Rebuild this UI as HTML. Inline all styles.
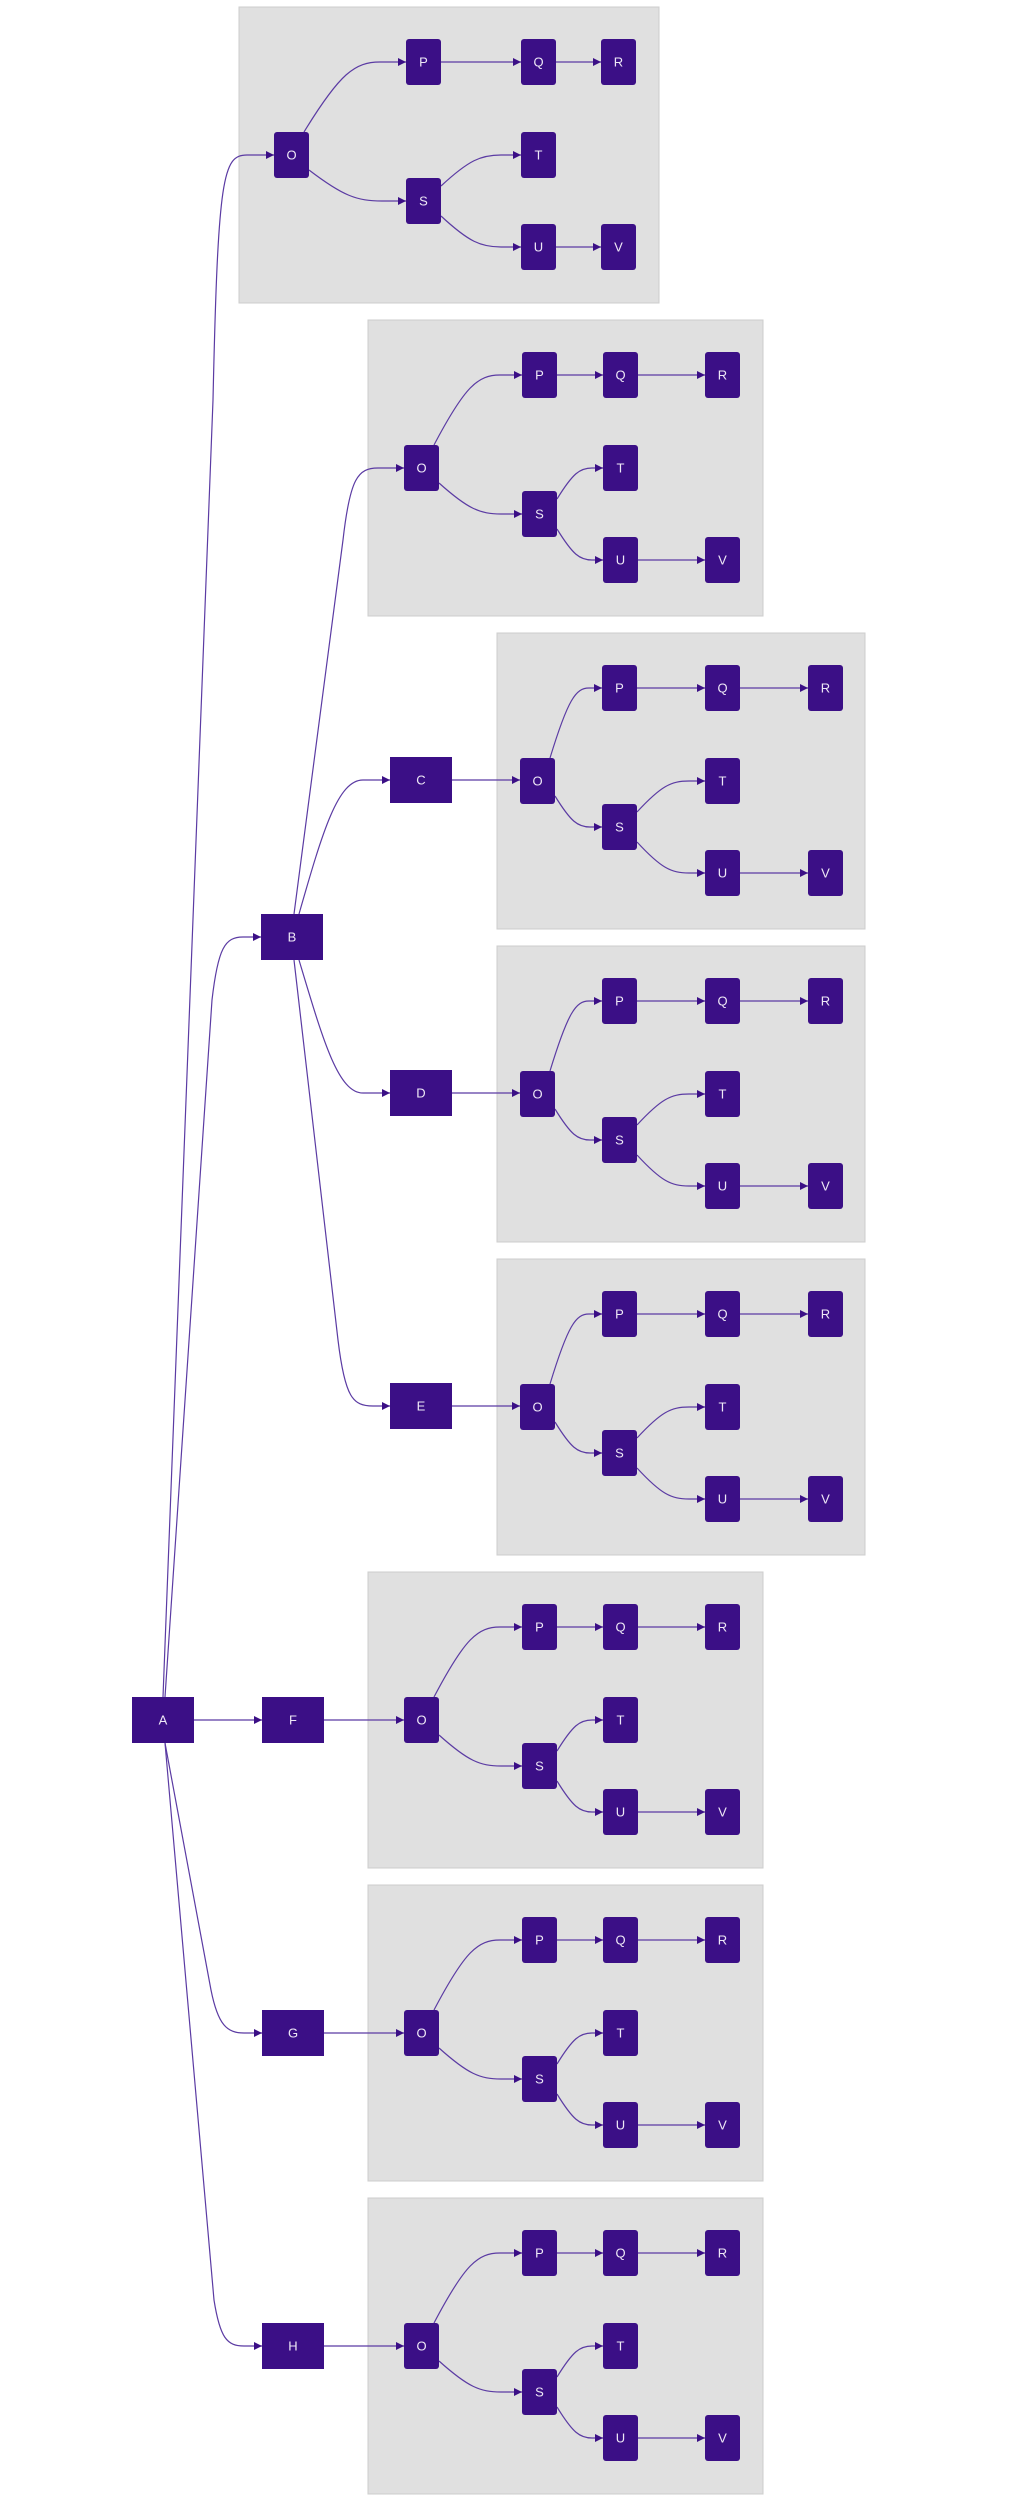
<!DOCTYPE html>
<html><head><meta charset="utf-8"><style>
html,body{margin:0;padding:0;background:#fff;}
svg{display:block;}
.g{fill:#e0e0e0;stroke:#cdcdcd;stroke-width:1;}
.n{fill:#3b0f86;}
.e{fill:none;stroke:#5b3ba3;stroke-width:1.2;marker-end:url(#ar);}
text{font-family:"Liberation Sans",sans-serif;font-size:13px;fill:#eee8f6;text-anchor:middle;dominant-baseline:central;}
</style></head><body>
<svg width="1010" height="2500" viewBox="0 0 1010 2500" xmlns="http://www.w3.org/2000/svg">
<defs>
<marker id="ar" markerUnits="userSpaceOnUse" markerWidth="8" markerHeight="8" refX="8" refY="4" orient="auto"><path d="M0,0 L8,4 L0,8 z" fill="#3b0f86"/></marker>
<g id="t1">
<rect class="g" x="0" y="0" width="420" height="296"/>
<path class="e" d="M65,125 C101,66 116,55 141,55 L167,55"/>
<path class="e" d="M70,163 C104,189 118,194 143,194 L167,194"/>
<path class="e" d="M202,55 L282,55"/>
<path class="e" d="M317,55 L362,55"/>
<path class="e" d="M202,179 C230,153 242,148 262,148 L282,148"/>
<path class="e" d="M202,209 C230,235 242,240 262,240 L282,240"/>
<path class="e" d="M317,240 L362,240"/>
<rect class="n" x="35" y="125" width="35" height="46" rx="3"/><text x="52.5" y="148">O</text>
<rect class="n" x="167" y="32" width="35" height="46" rx="3"/><text x="184.5" y="55">P</text>
<rect class="n" x="282" y="32" width="35" height="46" rx="3"/><text x="299.5" y="55">Q</text>
<rect class="n" x="362" y="32" width="35" height="46" rx="3"/><text x="379.5" y="55">R</text>
<rect class="n" x="282" y="125" width="35" height="46" rx="3"/><text x="299.5" y="148">T</text>
<rect class="n" x="167" y="171" width="35" height="46" rx="3"/><text x="184.5" y="194">S</text>
<rect class="n" x="282" y="217" width="35" height="46" rx="3"/><text x="299.5" y="240">U</text>
<rect class="n" x="362" y="217" width="35" height="46" rx="3"/><text x="379.5" y="240">V</text>
</g>
<g id="t2">
<rect class="g" x="0" y="0" width="395" height="296"/>
<path class="e" d="M66,125 C97,66 110,55 132,55 L154,55"/>
<path class="e" d="M71,163 C100,189 112,194 133,194 L154,194"/>
<path class="e" d="M189,55 L235,55"/>
<path class="e" d="M270,55 L337,55"/>
<path class="e" d="M189,179 C205,153 212,148 224,148 L235,148"/>
<path class="e" d="M189,209 C205,235 212,240 224,240 L235,240"/>
<path class="e" d="M270,240 L337,240"/>
<rect class="n" x="36" y="125" width="35" height="46" rx="3"/><text x="53.5" y="148">O</text>
<rect class="n" x="154" y="32" width="35" height="46" rx="3"/><text x="171.5" y="55">P</text>
<rect class="n" x="235" y="32" width="35" height="46" rx="3"/><text x="252.5" y="55">Q</text>
<rect class="n" x="337" y="32" width="35" height="46" rx="3"/><text x="354.5" y="55">R</text>
<rect class="n" x="235" y="125" width="35" height="46" rx="3"/><text x="252.5" y="148">T</text>
<rect class="n" x="154" y="171" width="35" height="46" rx="3"/><text x="171.5" y="194">S</text>
<rect class="n" x="235" y="217" width="35" height="46" rx="3"/><text x="252.5" y="240">U</text>
<rect class="n" x="337" y="217" width="35" height="46" rx="3"/><text x="354.5" y="240">V</text>
</g>
<g id="t3">
<rect class="g" x="0" y="0" width="368" height="296"/>
<path class="e" d="M53,125 C71,66 79,55 92,55 L105,55"/>
<path class="e" d="M58,163 C74,189 81,194 93,194 L105,194"/>
<path class="e" d="M140,55 L208,55"/>
<path class="e" d="M243,55 L311,55"/>
<path class="e" d="M140,179 C164,153 174,148 192,148 L208,148"/>
<path class="e" d="M140,209 C164,235 174,240 192,240 L208,240"/>
<path class="e" d="M243,240 L311,240"/>
<rect class="n" x="23" y="125" width="35" height="46" rx="3"/><text x="40.5" y="148">O</text>
<rect class="n" x="105" y="32" width="35" height="46" rx="3"/><text x="122.5" y="55">P</text>
<rect class="n" x="208" y="32" width="35" height="46" rx="3"/><text x="225.5" y="55">Q</text>
<rect class="n" x="311" y="32" width="35" height="46" rx="3"/><text x="328.5" y="55">R</text>
<rect class="n" x="208" y="125" width="35" height="46" rx="3"/><text x="225.5" y="148">T</text>
<rect class="n" x="105" y="171" width="35" height="46" rx="3"/><text x="122.5" y="194">S</text>
<rect class="n" x="208" y="217" width="35" height="46" rx="3"/><text x="225.5" y="240">U</text>
<rect class="n" x="311" y="217" width="35" height="46" rx="3"/><text x="328.5" y="240">V</text>
</g>
</defs>

<use href="#t1" x="239" y="7"/>
<use href="#t2" x="368" y="320"/>
<use href="#t3" x="497" y="633"/>
<use href="#t3" x="497" y="946"/>
<use href="#t3" x="497" y="1259"/>
<use href="#t2" x="368" y="1572"/>
<use href="#t2" x="368" y="1885"/>
<use href="#t2" x="368" y="2198"/>

<path class="e" d="M163,1697 L213,400 C218,175 223,155 247,155 L274,155"/>
<path class="e" d="M165,1697 L212,1000 C218,948 225,937 243,937 L261,937"/>
<path class="e" d="M194,1720 L262,1720"/>
<path class="e" d="M165,1743 L211,1990 C218,2025 227,2033 244,2033 L262,2033"/>
<path class="e" d="M165,1743 L214,2300 C220,2338 227,2346 244,2346 L262,2346"/>
<path class="e" d="M294,914 L343,540 C350,478 358,468 378,468 L404,468"/>
<path class="e" d="M299,914 C323,830 338,780 363,780 L390,780"/>
<path class="e" d="M299,960 C323,1040 338,1093 363,1093 L390,1093"/>
<path class="e" d="M294,960 L338,1340 C345,1398 353,1406 373,1406 L390,1406"/>
<path class="e" d="M452,780 L520,780"/>
<path class="e" d="M452,1093 L520,1093"/>
<path class="e" d="M452,1406 L520,1406"/>
<path class="e" d="M324,1720 L404,1720"/>
<path class="e" d="M324,2033 L404,2033"/>
<path class="e" d="M324,2346 L404,2346"/>

<rect class="n" x="132" y="1697" width="62" height="46"/><text x="163" y="1720">A</text>
<rect class="n" x="261" y="914" width="62" height="46"/><text x="292" y="937">B</text>
<rect class="n" x="390" y="757" width="62" height="46"/><text x="421" y="780">C</text>
<rect class="n" x="390" y="1070" width="62" height="46"/><text x="421" y="1093">D</text>
<rect class="n" x="390" y="1383" width="62" height="46"/><text x="421" y="1406">E</text>
<rect class="n" x="262" y="1697" width="62" height="46"/><text x="293" y="1720">F</text>
<rect class="n" x="262" y="2010" width="62" height="46"/><text x="293" y="2033">G</text>
<rect class="n" x="262" y="2323" width="62" height="46"/><text x="293" y="2346">H</text>
</svg>
</body></html>
